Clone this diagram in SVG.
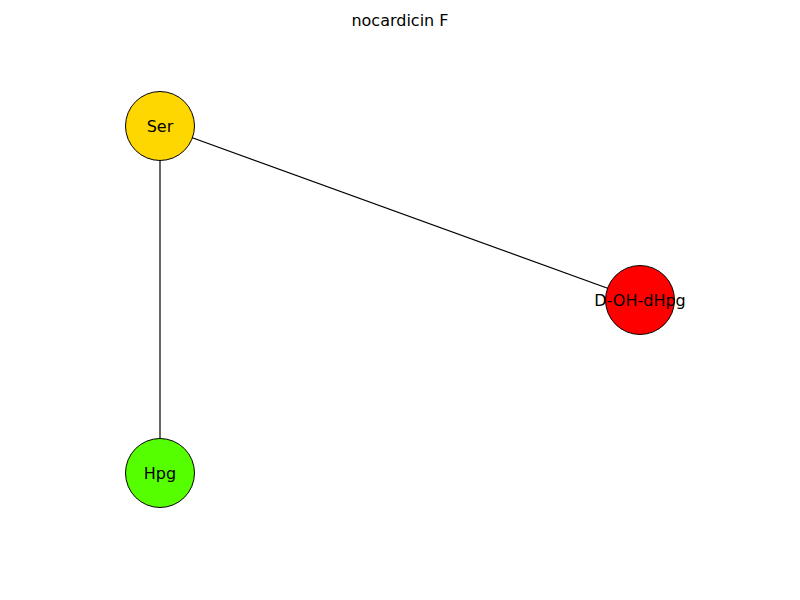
<svg xmlns="http://www.w3.org/2000/svg" width="800" height="600" viewBox="0 0 800 600">
<style>
.n{stroke:#000;stroke-width:1}
.t{font-family:"DejaVu Sans",sans-serif;font-size:16px;text-anchor:middle;dominant-baseline:central;fill:#000}
.e{stroke:#000;stroke-width:1.2;fill:none}
</style>
<rect width="800" height="600" fill="#fff"/>
<text x="400" y="20" class="t">nocardicin F</text>
<g id="connectors">
<line class="e" x1="160" y1="126" x2="640" y2="300"/>
<line class="e" x1="160" y1="126" x2="160" y2="473"/>
</g>
<g id="Ser"><circle class="n" cx="160" cy="126" r="34.5" fill="#FFD700"/><text class="t" x="160" y="126">Ser</text></g>
<g id="D-OH-dHpg"><circle class="n" cx="640" cy="300" r="34.5" fill="#FF0000"/><text class="t" x="640" y="300">D-OH-dHpg</text></g>
<g id="Hpg"><circle class="n" cx="160" cy="473" r="34.5" fill="#55FF00"/><text class="t" x="160" y="473">Hpg</text></g>
</svg>
